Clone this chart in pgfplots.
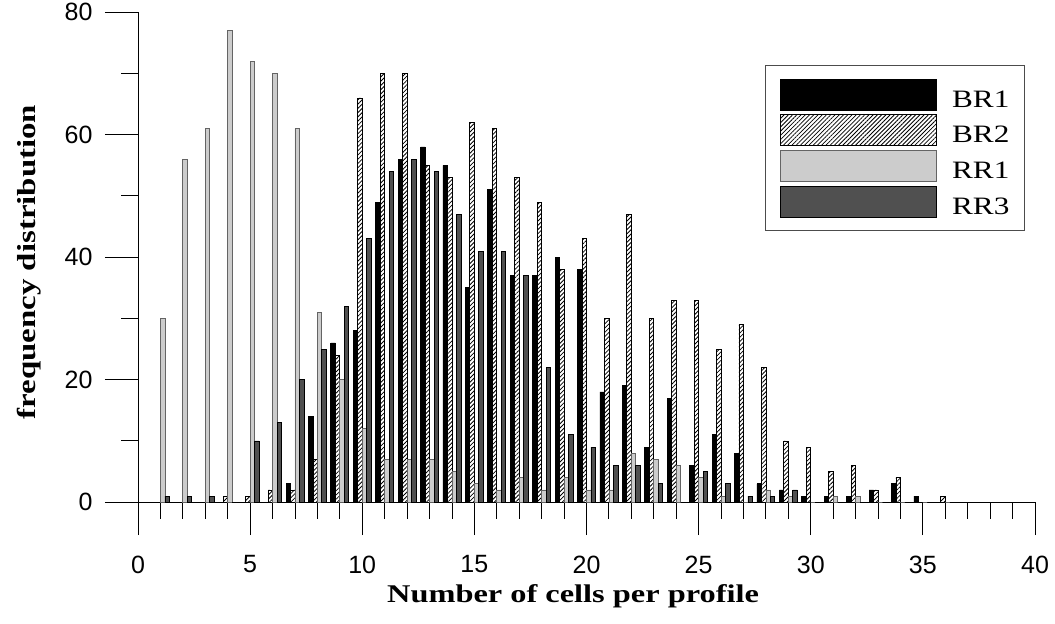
\documentclass[border=0pt]{standalone}
\usepackage{fontspec}
\setmainfont{Liberation Serif}
\newfontfamily\arialfont{Liberation Sans}
\usepackage{graphicx}
\usepackage{pgfplots}
\pgfplotsset{compat=1.18}
\usepackage{pgfplotstable}
\usetikzlibrary{patterns.meta}
\definecolor{rrone}{RGB}{204,204,204}
\definecolor{rronedraw}{RGB}{100,100,100}
\definecolor{rrthree}{RGB}{80,80,80}

\pgfplotstableread{
x  br1 br2 rr1 rr3
1  0   0   30  1
2  0   0   56  1
3  0   0   61  1
4  0   1   77  0
5  0   1   72  10
6  0   2   70  13
7  3   2   61  20
8  14  7   31  25
9  26  24  20  32
10 28  66  12  43
11 49  70  7   54
12 56  70  7   56
13 58  55  7   54
14 55  53  5   47
15 35  62  3   41
16 51  61  2   41
17 37  53  4   37
18 37  49  2   22
19 40  38  4   11
20 38  43  2   9
21 18  30  2   6
22 19  47  8   6
23 9   30  7   3
24 17  33  6   0
25 6   33  4   5
26 11  25  1   3
27 8   29  0   1
28 3   22  2   1
29 2   10  1   2
30 1   9   0   0
31 1   5   1   0
32 1   6   1   0
33 2   2   0   0
34 3   4   0   0
35 1   0   0   0
36 0   1   0   0
}\datatable

\pgfplotsset{
  mylegend/.style={legend image code/.code={\draw[##1] (0pt,-10.4pt) rectangle (156pt,20.6pt);}},
}

\begin{document}
\begin{tikzpicture}
\begin{axis}[
  at={(0,0)}, anchor=origin,
  x=22.425pt, y=6.125pt,
  xmin=0, xmax=40, ymin=0, ymax=80,
  axis lines=left,
  axis line style={-, line width=1pt, black},
  tick align=outside,
  major tick length=33pt, minor tick length=16.7pt,
  tick style={black, line width=0.9pt},
  xtick={0,5,...,40}, minor x tick num=4,
  ytick={0,20,...,80}, minor y tick num=1,
  /pgf/number format/assume math mode=true,
  tick label style={font=\arialfont\fontsize{25}{30}\selectfont},
  yticklabel style={xshift=-9pt},
  xticklabel style={yshift=-17pt},
  xlabel={\scalebox{1.27}[1]{Number of cells per profile}},
  ylabel={\scalebox{1.265}[1]{frequency distribution}},
  xlabel style={at={(axis cs:19.4,-16.33)}, anchor=base, font=\bfseries\fontsize{25.5}{30}\selectfont},
  ylabel style={at={(axis cs:-4.86,39.2)}, anchor=center, rotate=0, font=\bfseries\fontsize{26}{30}\selectfont},
  legend style={at={(axis cs:39.55,71.35)}, anchor=north east, draw=black!70, line width=0.9pt,
    inner xsep=15pt, inner ysep=13pt, row sep=4pt, column sep=15pt,
    font=\fontsize{25}{30}\selectfont, nodes={inner sep=0pt}},
  legend cell align=left,
  clip=false,
]
\addplot[ybar, bar width=0.2, bar shift=-0.3, fill=black, draw=black, line width=0.8pt, mylegend]
  table[x=x, y=br1] {\datatable};
\addlegendentry{\scalebox{1.25}[1]{BR1}}
\addplot[ybar, bar width=0.2, bar shift=-0.1, draw=black, line width=0.8pt,
  pattern={Lines[angle=45, distance=3pt, line width=0.8pt]}, pattern color=black, mylegend]
  table[x=x, y=br2] {\datatable};
\addlegendentry{\scalebox{1.25}[1]{BR2}}
\addplot[ybar, bar width=0.2, bar shift=0.1, fill=rrone, draw=rronedraw, line width=0.8pt, mylegend]
  table[x=x, y=rr1] {\datatable};
\addlegendentry{\scalebox{1.25}[1]{RR1}}
\addplot[ybar, bar width=0.2, bar shift=0.3, fill=rrthree, draw=black, line width=0.8pt, mylegend]
  table[x=x, y=rr3] {\datatable};
\addlegendentry{\scalebox{1.25}[1]{RR3}}
\coordinate (bbll) at (axis cs:-6.154,-19.755);
\coordinate (bbur) at (axis cs:40.892,81.63);
\end{axis}
\path (bbll) rectangle (bbur);
\end{tikzpicture}
\end{document}
